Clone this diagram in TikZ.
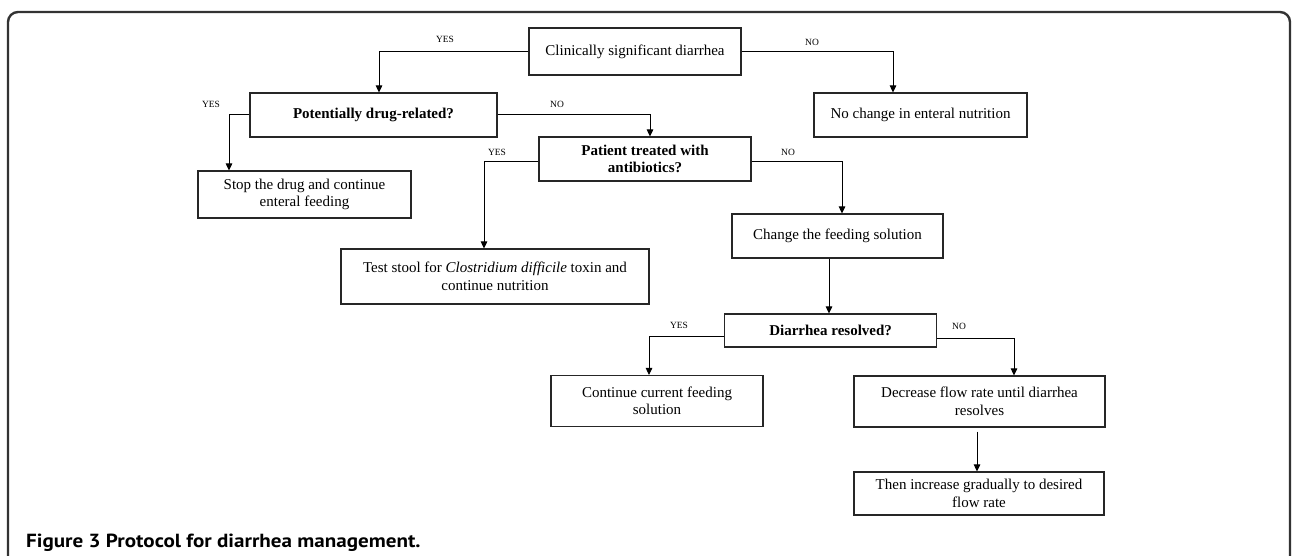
\documentclass[tikz,border=0pt]{standalone}
\usepackage{fontspec}
\setmainfont{Liberation Serif}
\newfontfamily\capfont{PT Sans}
\usetikzlibrary{arrows.meta}
\tikzset{
  box/.style={draw=black!85, line width=1.1pt, inner sep=0pt, align=center, font=\fontsize{15}{17.5}\selectfont},
  qbox/.style={box, font=\fontsize{15}{17.5}\selectfont\bfseries},
  lbl/.style={inner sep=0pt, font=\fontsize{9.5}{11}\selectfont},
  arr/.style={-{Triangle[width=6.5pt,length=7pt]}, line width=0.9pt},
  frame/.style={line width=2.4pt, draw=black!80, rounded corners=10pt}
}
\begin{document}
\begin{tikzpicture}[x=1pt,y=-1pt]
\useasboundingbox (0,0) rectangle (1292,555);
\fill[white] (0,0) rectangle (1292,555);
\draw[frame] (8,570) -- (8,12) -- (1290,12) -- (1290,570);

% boxes
\node[box, minimum width=212pt, minimum height=47pt] (clin) at (635,51.5) {Clinically significant diarrhea};
\node[qbox, minimum width=247pt, minimum height=44pt] (pot) at (373.5,115) {Potentially drug-related?};
\node[box, minimum width=213pt, minimum height=44pt] (nochg) at (920.5,115) {No change in enteral nutrition};
\node[box, minimum width=213pt, minimum height=47pt] (stop) at (304.5,194.5) {Stop the drug and continue\\enteral feeding};
\node[qbox, minimum width=212pt, minimum height=44pt] (pat) at (645,159) {Patient treated with\\antibiotics?};
\node[box, minimum width=308pt, minimum height=55pt] (test) at (495,276.5) {Test stool for \textit{Clostridium difficile} toxin and\\continue nutrition};
\node[box, minimum width=211pt, minimum height=44pt] (chg) at (837.5,236) {Change the feeding solution};
\node[qbox, minimum width=212pt, minimum height=33pt] (diar) at (830.6,330.5) {Diarrhea resolved?};
\node[box, minimum width=212pt, minimum height=51pt] (cont) at (657,401) {Continue current feeding\\solution};
\node[box, minimum width=251pt, minimum height=51pt] (dec) at (979.5,401.5) {Decrease flow rate until diarrhea\\resolves};
\node[box, minimum width=250pt, minimum height=43pt] (then) at (979,493.5) {Then increase gradually to desired\\flow rate};

% connectors
\draw[arr] (clin.west) -| ([xshift=5.5pt]pot.north);
\draw[arr] (clin.east) -| ([xshift=-27.5pt]nochg.north);
\draw[arr] ([yshift=1pt]pot.west) -| ([xshift=-75.5pt]stop.north);
\draw[arr] ([yshift=1pt]pot.east) -| ([xshift=5pt]pat.north);
\draw[arr] ([yshift=-2pt]pat.west) -| ([xshift=-11pt]test.north);
\draw[arr] ([yshift=-2pt]pat.east) -| ([xshift=4.5pt]chg.north);
\draw[arr] ([xshift=-8.5pt]chg.south) -- ([xshift=-1.6pt]diar.north);
\draw[arr] ([yshift=-5.5pt]diar.west) -| ([xshift=-8pt]cont.north);
\draw[arr] ([yshift=-7.5pt]diar.east) -| ([xshift=34.5pt]dec.north);
\draw[arr] ([xshift=-2.5pt,yshift=-4pt]dec.south) -- ([xshift=-2pt]then.north);

% labels
\node[lbl] (l1) at (445,39) {YES};
\node[lbl] (l2) at (812,42) {NO};
\node[lbl] (l3) at (211,104) {YES};
\node[lbl] (l4) at (557,104) {NO};
\node[lbl] (l5) at (497,152) {YES};
\node[lbl] (l6) at (788,152) {NO};
\node[lbl] (l7) at (679,325) {YES};
\node[lbl] (l8) at (959,326) {NO};

% caption
\node[anchor=base west, inner sep=0pt, font={\capfont\fontsize{19}{21}\selectfont\bfseries}] (cap) at (26,547) {\scalebox{1.11}[1]{Figure 3 Protocol for diarrhea management.}};
\end{tikzpicture}
\end{document}
